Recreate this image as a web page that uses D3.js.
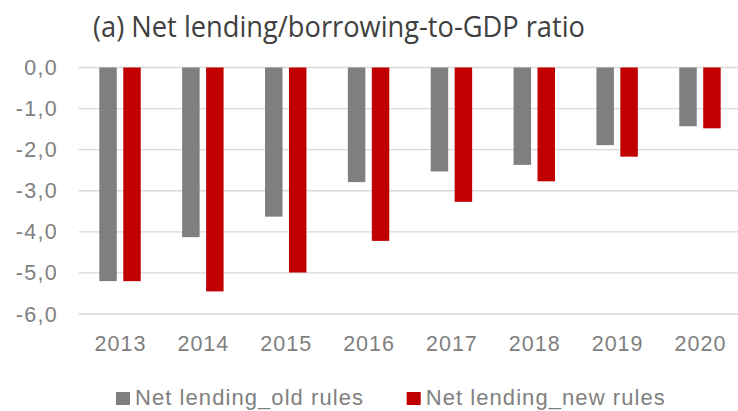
<!DOCTYPE html>
<html>
<head>
<meta charset="utf-8">
<script src="https://cdn.jsdelivr.net/npm/d3@7"></script>
<style>
  body { margin: 0; background: #fff; }
  svg { display: block; }
</style>
</head>
<body>
<div id="chart"></div>
<script>
const years = ["2013", "2014", "2015", "2016", "2017", "2018", "2019", "2020"];
const oldRules = [-5.2, -4.13, -3.63, -2.79, -2.53, -2.37, -1.89, -1.43];
const newRules = [-5.2, -5.45, -4.99, -4.22, -3.27, -2.77, -2.17, -1.48];
const seriesNames = ["Net lending_old rules", "Net lending_new rules"];
const seriesColors = ["#7f7f7f", "#c00000"];
const yTicks = [0, -1, -2, -3, -4, -5, -6];

const width = 738, height = 411;
const margin = { top: 67.5, right: -3.4, bottom: 97, left: 78.6 };
const labelFont = '"Liberation Sans", Arial, sans-serif';

const svg = d3.select('#chart').append('svg')
      .attr('width', width)
      .attr('height', height);

const x = d3.scaleBand()
      .domain(years)
      .range([margin.left, width - margin.right])
      .paddingInner(0.5)
      .paddingOuter(0.25);

const x1 = d3.scaleBand()
      .domain([0, 1])
      .range([0, x.bandwidth()])
      .paddingInner(0.27);

const y = d3.scaleLinear()
      .domain([0, -6])
      .range([margin.top, height - margin.bottom]);

// gridlines
svg.append('g')
  .selectAll('line')
  .data(yTicks)
  .enter().append('line')
  .attr('x1', margin.left)
  .attr('x2', width)
  .attr('y1', d => y(d))
  .attr('y2', d => y(d))
  .attr('stroke', '#d9d9d9')
  .attr('stroke-width', 1.3);

// y labels
svg.append('g')
  .selectAll('text')
  .data(yTicks)
  .enter().append('text')
  .attr('x', 58)
  .attr('y', d => y(d))
  .attr('dy', '0.35em')
  .attr('text-anchor', 'end')
  .attr('font-family', labelFont)
  .attr('font-size', 21.5)
  .attr('letter-spacing', 1.3)
  .attr('fill', '#808080')
  .text(d => d3.format('.1f')(d).replace('.', ',').replace('−', '-'));

// bars
const series = [oldRules, newRules];
series.forEach((vals, i) => {
  svg.append('g')
    .selectAll('rect')
    .data(vals)
    .enter().append('rect')
    .attr('x', (d, j) => x(years[j]) + x1(i))
    .attr('width', x1.bandwidth())
    .attr('y', y(0))
    .attr('height', d => y(d) - y(0))
    .attr('fill', seriesColors[i]);
});

// x labels
svg.append('g')
  .selectAll('text')
  .data(years)
  .enter().append('text')
  .attr('x', d => x(d) + x.bandwidth() / 2 + 0.5)
  .attr('y', 350.5)
  .attr('text-anchor', 'middle')
  .attr('font-family', labelFont)
  .attr('font-size', 21.5)
  .attr('letter-spacing', 1)
  .attr('fill', '#808080')
  .text(d => d);

// title
svg.append('text')
  .attr('x', 93)
  .attr('y', 37)
  .attr('font-family', '"Open Sans", "Noto Sans", sans-serif')
  .attr('font-size', 29)
  .attr('fill', '#404040')
  .attr('textLength', 492)
  .attr('lengthAdjust', 'spacingAndGlyphs')
  .text('(a) Net lending/borrowing-to-GDP ratio');

// legend
const legendX = [116, 406.7];
const legendLen = [228, 239];
const legend = svg.append('g')
      .selectAll('g')
      .data(seriesNames)
      .enter().append('g')
      .attr('transform', (d, i) => `translate(${legendX[i]}, 392)`);

legend.append('rect')
  .attr('width', 14)
  .attr('height', 13)
  .attr('fill', (d, i) => seriesColors[i]);

legend.append('text')
  .attr('x', 19)
  .attr('y', 13)
  .attr('font-family', labelFont)
  .attr('font-size', 22)
  .attr('fill', '#808080')
  .attr('textLength', (d, i) => legendLen[i])
  .text(d => d);
</script>
</body>
</html>
